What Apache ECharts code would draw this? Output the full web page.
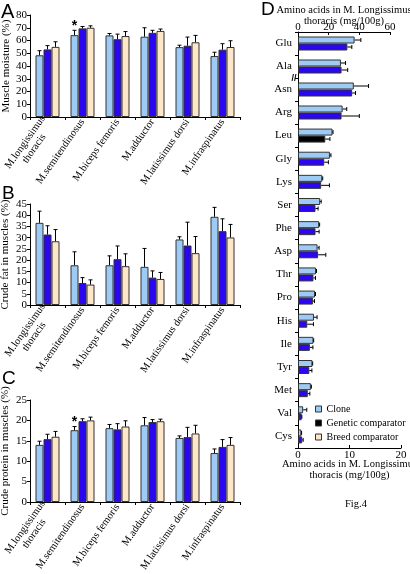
<!DOCTYPE html>
<html><head><meta charset="utf-8">
<script src="https://cdn.jsdelivr.net/npm/echarts@6/dist/echarts.min.js"></script>
<style>html,body{margin:0;padding:0;background:#fff}#c{width:410px;height:574px}</style>
</head><body><div id="c"></div>
<script>
// ---------- DATA ----------
const muscles = ['M.longissimus\nthoracis','M.semitendinosus','M.biceps femoris','M.adductor','M.latissimus dorsi','M.infraspinatus'];
const groupNames = ['Clone','Genetic comparator','Breed comparator'];

// Panel A: muscle moisture (%) — means and top of error bar
const moistureClone      = [48.4, 64.2, 64.0, 63.0, 54.8, 47.8];
const moistureCloneErr   = [52.0, 68.0, 65.5, 70.0, 56.3, 50.8];
const moistureGenetic    = [53.0, 69.5, 61.0, 66.0, 55.9, 52.8];
const moistureGeneticErr = [56.0, 71.0, 65.0, 68.0, 62.7, 57.5];
const moistureBreed      = [55.0, 70.0, 63.5, 67.5, 58.6, 54.9];
const moistureBreedErr   = [59.0, 71.5, 67.0, 69.0, 64.0, 59.8];
const moistureStars = [1];
const moistureTicks = [0, 80, 10];

// Panel B: crude fat (%)
const fatClone      = [36.6, 17.7, 17.7, 17.0, 29.2, 39.3];
const fatCloneErr   = [41.8, 23.7, 21.9, 25.2, 30.4, 43.5];
const fatGenetic    = [31.4,  9.8, 20.4, 12.2, 26.5, 32.9];
const fatGeneticErr = [35.3, 12.2, 26.3, 15.2, 36.9, 38.4];
const fatBreed      = [28.4,  9.1, 17.3, 11.6, 23.1, 30.1];
const fatBreedErr   = [33.6, 11.2, 22.8, 14.5, 30.5, 35.9];
const fatTicks = [0, 45, 5];

// Panel C: crude protein (%)
const proteinClone      = [14.0, 17.6, 18.1, 18.8, 15.7, 12.0];
const proteinCloneErr   = [14.9, 18.5, 19.0, 20.7, 16.2, 13.0];
const proteinGenetic    = [15.4, 19.8, 17.8, 19.6, 15.9, 13.5];
const proteinGeneticErr = [16.6, 20.4, 19.2, 20.2, 18.3, 15.3];
const proteinBreed      = [16.0, 20.0, 18.5, 19.8, 16.8, 14.0];
const proteinBreedErr   = [17.3, 20.8, 19.9, 20.3, 18.8, 15.8];
const proteinStars = [1];
const proteinTicks = [0, 25, 5];

// Panel D: amino acids (mg/100g)
const aminoTop = ['Glu','Ala','Asn','Arg'];
const aminoTopClone      = [36.9, 28.0, 36.4, 29.1];
const aminoTopCloneErr   = [41.0, 31.0, 46.0, 31.8];
const aminoTopGenetic    = [32.2, 28.4, 35.3, 28.4];
const aminoTopGeneticErr = [35.1, 32.4, 37.5, 40.0];
const aminoTopTicks = [0, 60, 20];

const aminoBottom = ['Leu','Gly','Lys','Ser','Phe','Asp','Thr','Pro','His','Ile','Tyr','Met','Val','Cys'];
const aminoBottomClone      = [6.7, 6.2, 4.7, 4.3, 4.1, 3.8, 3.5, 3.3, 3.1, 3.0, 2.8, 2.5, 1.0, 0.65];
const aminoBottomCloneErr   = [6.8, 6.4, 4.8, 4.5, 4.2, 4.1, 3.6, 3.4, 3.7, 3.05, 2.85, 2.6, 1.7, 0.7];
const aminoBottomGenetic    = [5.3, 5.1, 4.5, 3.4, 3.4, 3.9, 3.0, 2.9, 1.8, 2.3, 2.2, 1.9, 0.7, 0.8];
const aminoBottomGeneticErr = [6.2, 5.9, 6.1, 3.9, 4.1, 5.4, 3.4, 3.2, 3.0, 2.9, 2.7, 2.3, 0.75, 1.0];
const aminoBottomTicks = [0, 20, 10];
const blackGeneticAmino = ['Leu'];

const muscleYTitles = ['Muscle moisture (%)','Crude fat in muscles (%)','Crude protein in muscles (%)'];
const aminoTitle = 'Amino acids in M. Longissimus\nthoracis (mg/100g)';
const panelLetters = ['A','B','C','D'];
const figLabel = 'Fig.4';

// ---------- STYLE ----------
const SERIF = 'Liberation Serif';
const SANS = 'Liberation Sans';
const colors = ['#9dcbf6', '#2b06f0', '#fde7c8'];
const border = '#333';

const chart = echarts.init(document.getElementById('c'), null, {renderer:'canvas'});

function errorBars(xi, yi, vals, errs, idx, n, bw, horizontal, stars) {
  const data = vals.map((v, i) => horizontal ? [v, i, errs[i]] : [i, v, errs[i]]);
  return {
    type: 'custom', name: '__err' + xi + '_' + idx, xAxisIndex: xi, yAxisIndex: yi, z: 5, silent: true,
    data: data,
    encode: horizontal ? {x: [0, 2], y: 1} : {x: 0, y: [1, 2]},
    renderItem: function (params, api) {
      const off = (idx - (n - 1) / 2) * bw;
      const cat = horizontal ? api.value(1) : api.value(0);
      const v = horizontal ? api.value(0) : api.value(1);
      const e = api.value(2);
      let p0, p1;
      if (horizontal) { p0 = api.coord([v, cat]); p1 = api.coord([e, cat]); p0[1] += off; p1[1] += off; }
      else { p0 = api.coord([cat, v]); p1 = api.coord([cat, e]); p0[0] += off; p1[0] += off; }
      const cap = 2;
      const st = {stroke: '#000', lineWidth: 1};
      const children = [
        {type: 'line', shape: {x1: p0[0], y1: p0[1], x2: p1[0], y2: p1[1]}, style: st},
        horizontal
          ? {type: 'line', shape: {x1: p1[0], y1: p1[1] - cap, x2: p1[0], y2: p1[1] + cap}, style: st}
          : {type: 'line', shape: {x1: p1[0] - cap, y1: p1[1], x2: p1[0] + cap, y2: p1[1]}, style: st}
      ];
      if (stars && stars.indexOf(params.dataIndex) >= 0) {
        children.push({type: 'text', x: p1[0], y: p1[1] + 3,
          style: {text: '*', fontSize: 14, fontFamily: SANS, fontWeight: 'bold', align: 'center', verticalAlign: 'bottom', fill: '#000'}});
      }
      return {type: 'group', children: children};
    }
  };
}

const grids = [
  {left: 30, top: 15, width: 210, height: 102},
  {left: 30, top: 204, width: 210, height: 101},
  {left: 30, top: 400, width: 210, height: 102},
  {left: 298, top: 32, width: 92, height: 92},
  {left: 298, top: 124, width: 103, height: 324}
].map(g => Object.assign({containLabel: false, outerBoundsMode: 'none'}, g));

const axisLineBlack = {show: true, lineStyle: {color: '#000', width: 1}};
const xAxes = [], yAxes = [], series = [];

const panels = [
  {vals: [moistureClone, moistureGenetic, moistureBreed], errs: [moistureCloneErr, moistureGeneticErr, moistureBreedErr], ticks: moistureTicks, stars: moistureStars, gap: 18},
  {vals: [fatClone, fatGenetic, fatBreed], errs: [fatCloneErr, fatGeneticErr, fatBreedErr], ticks: fatTicks, stars: null, gap: 19},
  {vals: [proteinClone, proteinGenetic, proteinBreed], errs: [proteinCloneErr, proteinGeneticErr, proteinBreedErr], ticks: proteinTicks, stars: proteinStars, gap: 19}
];

function centeredLines(value) {
  return value.split('\n').map(l => '{c|' + l + '}').join('\n');
}

panels.forEach((p, g) => {
  xAxes.push({
    type: 'category', gridIndex: g, data: muscles,
    axisLine: axisLineBlack,
    axisTick: {show: true, length: 3, lineStyle: {color: '#000'}},
    axisLabel: {rotate: 55, interval: 0, fontSize: 10.5, fontFamily: SERIF, color: '#000', margin: 3, lineHeight: 11,
      formatter: centeredLines,
      rich: {c: {align: 'center', fontSize: 10.5, fontFamily: SERIF, color: '#000', lineHeight: 11}}}
  });
  yAxes.push({
    type: 'value', gridIndex: g, min: p.ticks[0], max: p.ticks[1], interval: p.ticks[2],
    splitLine: {show: false},
    axisLine: axisLineBlack,
    axisTick: {show: true, length: 3, lineStyle: {color: '#000'}},
    axisLabel: {fontSize: 11, fontFamily: SERIF, color: '#000', margin: 3},
    name: muscleYTitles[g], nameLocation: 'middle', nameGap: p.gap, nameMoveOverlap: false,
    nameTextStyle: {fontSize: 11, fontFamily: SERIF, color: '#000'}
  });
  for (let s = 0; s < 3; s++) {
    series.push({
      type: 'bar', name: groupNames[s], xAxisIndex: g, yAxisIndex: g,
      data: p.vals[s], barWidth: 8, barGap: '0%', silent: true,
      itemStyle: {color: colors[s], borderColor: border, borderWidth: 1}
    });
  }
  for (let s = 0; s < 3; s++) {
    series.push(errorBars(g, g, p.vals[s], p.errs[s], s, 3, 8, false, s === 0 ? p.stars : null));
  }
});

// Panel D axes
xAxes.push({
  type: 'value', gridIndex: 3, position: 'top', min: aminoTopTicks[0], max: aminoTopTicks[1], interval: aminoTopTicks[2],
  splitLine: {show: false}, axisLine: axisLineBlack,
  axisTick: {show: true, inside: true, length: 3, lineStyle: {color: '#000'}},
  axisLabel: {fontSize: 11, fontFamily: SERIF, color: '#000', margin: -1},
  name: aminoTitle, nameLocation: 'middle', nameGap: 6, nameMoveOverlap: false,
  nameTextStyle: {fontSize: 10.5, fontFamily: SERIF, color: '#000', lineHeight: 10.5, verticalAlign: 'bottom'}
});
xAxes.push({
  type: 'value', gridIndex: 4, position: 'bottom', min: aminoBottomTicks[0], max: aminoBottomTicks[1], interval: aminoBottomTicks[2],
  splitLine: {show: false}, axisLine: axisLineBlack,
  axisTick: {show: true, inside: true, length: 3, lineStyle: {color: '#000'}},
  axisLabel: {fontSize: 11, fontFamily: SERIF, color: '#000', margin: 2},
  name: aminoTitle, nameLocation: 'middle', nameGap: 11, nameMoveOverlap: false,
  nameTextStyle: {fontSize: 10.5, fontFamily: SERIF, color: '#000', lineHeight: 11, verticalAlign: 'top'}
});
[[3, aminoTop], [4, aminoBottom]].forEach(([g, cats]) => {
  yAxes.push({
    type: 'category', gridIndex: g, data: cats, inverse: true,
    axisLine: axisLineBlack,
    axisTick: {show: true, length: 3, lineStyle: {color: '#000'}},
    axisLabel: {fontSize: 11, fontFamily: SERIF, color: '#000', margin: 6}
  });
});

const dSets = [
  {g: 3, vals: [aminoTopClone, aminoTopGenetic], errs: [aminoTopCloneErr, aminoTopGeneticErr], cats: aminoTop},
  {g: 4, vals: [aminoBottomClone, aminoBottomGenetic], errs: [aminoBottomCloneErr, aminoBottomGeneticErr], cats: aminoBottom}
];
dSets.forEach(d => {
  for (let s = 0; s < 2; s++) {
    series.push({
      type: 'bar', name: groupNames[s], xAxisIndex: d.g, yAxisIndex: d.g, barWidth: 7, barGap: '0%', silent: true,
      data: d.vals[s].map((v, i) => (s === 1 && blackGeneticAmino.indexOf(d.cats[i]) >= 0)
        ? {value: v, itemStyle: {color: '#000'}} : v),
      itemStyle: {color: colors[s], borderColor: border, borderWidth: 1}
    });
  }
  for (let s = 0; s < 2; s++) {
    series.push(errorBars(d.g, d.g, d.vals[s], d.errs[s], s, 2, 7, true, null));
  }
});

const letterPos = [[1, 2, 20], [2, 184, 19], [2, 369, 19], [261, 0, 19]];
const titles = panelLetters.map((t, i) => ({
  text: t, left: letterPos[i][0], top: letterPos[i][1], padding: 0,
  textStyle: {fontSize: letterPos[i][2], fontWeight: 'normal', fontFamily: SANS, color: '#000'}
}));
titles.push({text: figLabel, left: 345, top: 499, padding: 0,
  textStyle: {fontSize: 10.5, fontWeight: 'normal', fontFamily: SERIF, color: '#000'}});

chart.setOption({
  animation: false,
  backgroundColor: '#fff',
  title: titles,
  grid: grids,
  xAxis: xAxes,
  yAxis: yAxes,
  legend: {
    orient: 'vertical', left: 315, top: 404, padding: 0, itemWidth: 6, itemHeight: 6, itemGap: 4, selectedMode: false,
    textStyle: {fontSize: 10, fontFamily: SERIF, color: '#000'},
    data: [
      {name: groupNames[0], icon: 'rect', itemStyle: {color: colors[0], borderColor: border, borderWidth: 1}},
      {name: groupNames[1], icon: 'rect', itemStyle: {color: '#000', borderColor: border, borderWidth: 1}},
      {name: groupNames[2], icon: 'rect', itemStyle: {color: colors[2], borderColor: border, borderWidth: 1}}
    ]
  },
  graphic: [{
    type: 'text', x: 294, y: 79,
    style: {text: '//', fontSize: 9, fontWeight: 'bold', fontFamily: SANS, fill: '#000', align: 'center', verticalAlign: 'middle'}
  }],
  series: series
});
</script></body></html>
